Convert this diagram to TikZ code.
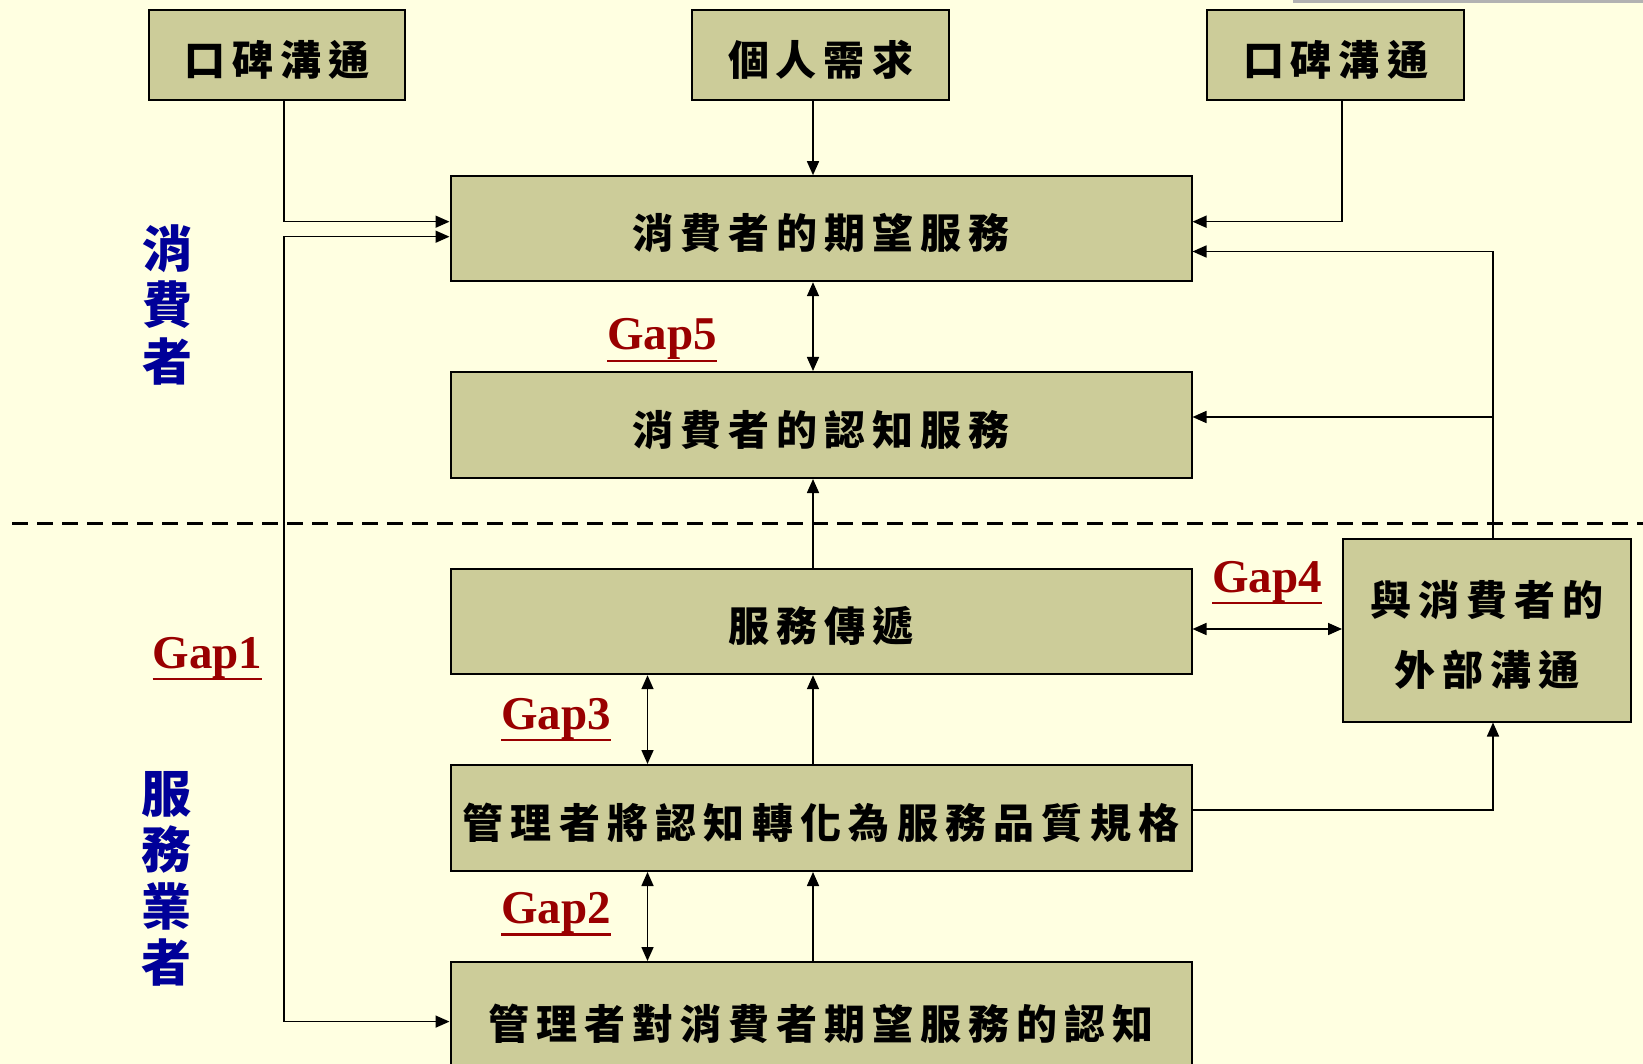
\documentclass[tikz,border=0pt]{standalone}
\usepackage{fontspec}
\setmainfont{Liberation Serif}
\newfontfamily\cjk{Noto Sans CJK TC}
\usetikzlibrary{arrows.meta,calc}
\definecolor{bg}{HTML}{FFFFE1}
\definecolor{boxfill}{HTML}{CCCC99}
\definecolor{gapred}{HTML}{990000}
\definecolor{sideblue}{HTML}{000099}
\makeatletter
\newcommand\spc[2]{\raisebox{-4.5pt}[0.88em][0.12em]{\@tfor\sp@c:=#2\do{\sp@c\kern#1}\kern-#1}}
\makeatother
\newcommand\gul[1]{\leavevmode\setbox0\hbox{#1}\rlap{\vrule height -9.5pt depth 12pt width \wd0}\box0}
\begin{document}
\begin{tikzpicture}[x=1pt,y=-1pt,
  box/.style={draw=black,line width=2pt,fill=boxfill,inner sep=0pt,text=black,
    font=\cjk\bfseries\fontsize{41}{48}\selectfont},
  arr/.style={line width=1.6pt,-{Triangle[length=14pt,width=12pt]}},
  darr/.style={line width=1.6pt,{Triangle[length=14pt,width=12pt]}-{Triangle[length=14pt,width=12pt]}},
  gap/.style={font=\bfseries\fontsize{47}{50}\selectfont,text=gapred,anchor=base,inner sep=0pt},
  side/.style={font=\cjk\bfseries\fontsize{50}{56.5}\selectfont,text=sideblue,inner sep=0pt,align=center}]
\fill[bg] (0,0) rectangle (1643,1064);
\useasboundingbox (0,0) rectangle (1643,1064);
\fill[gray!60] (1293,0) rectangle (1643,3.5);
% dashed divider
\draw[line width=3pt,dash pattern=on 16pt off 9pt] (12,523) -- (1643,523);
% boxes
\node[box,minimum width=256pt,minimum height=90pt] (wom1) at (277,55) {\spc{7pt}{口碑溝通}};
\node[box,minimum width=257pt,minimum height=90pt] (need) at (820.5,55) {\spc{7pt}{個人需求}};
\node[box,minimum width=257pt,minimum height=90pt] (wom2) at (1335.5,55) {\spc{7pt}{口碑溝通}};
\node[box,minimum width=741pt,minimum height=105pt] (exp) at (821,228.7) {\spc{7pt}{消費者的期望服務}};
\node[box,minimum width=741pt,minimum height=106pt] (perc) at (821,425) {\spc{7pt}{消費者的認知服務}};
\node[box,minimum width=741pt,minimum height=105pt] (deliv) at (821,621.7) {\spc{7pt}{服務傳遞}};
\node[box,minimum width=741pt,minimum height=106pt] (spec) at (821,818) {\spc{7.3pt}{管理者將認知轉化為服務品質規格}};
\node[box,minimum width=741pt,minimum height=114pt] (mgr) at (821,1019) {\spc{7pt}{管理者對消費者期望服務的認知}};
\node[box,minimum width=288pt,minimum height=183pt,align=center,font=\cjk\bfseries\fontsize{41}{70}\selectfont] (ext) at (1487,630) {\spc{7pt}{與消費者的}\\\spc{7pt}{外部溝通}};
% side labels
\node[side] (cons) at (167,305) {消\\費\\者};
\node[side] (prov) at (166,879) {服\\務\\業\\者};
% gap labels
\node[gap] (g5) at (662,350) {\gul{Gap5}};
\node[gap] (g1) at (207.5,668) {\gul{Gap1}};
\node[gap] (g4) at (1267,592) {\gul{Gap4}};
\node[gap] (g3) at (556,729) {\gul{Gap3}};
\node[gap] (g2) at (556,923.5) {\gul{Gap2}};
% helper coordinates
\coordinate (xL) at (284,0);
\coordinate (xM) at (813,0);
\coordinate (xG) at (647.5,0);
\coordinate (xR) at (1342,0);
\coordinate (xE) at (1493,0);
\coordinate (yA) at (0,221.7);
\coordinate (yB) at (0,236.7);
\coordinate (yC) at (0,251.5);
\coordinate (yD) at (0,417);
\coordinate (yE) at (0,629);
\coordinate (yF) at (0,810);
\coordinate (yG) at (0,1021.6);
% connectors
\draw[arr] (wom1.south -| xL) |- (exp.west |- yA);
\draw[darr] (exp.west |- yB) -| (xL |- yG) -- (mgr.west |- yG);
\draw[arr] (need.south -| xM) -- (exp.north -| xM);
\draw[arr] (wom2.south -| xR) |- (exp.east |- yA);
\draw[arr] (ext.north -| xE) |- (exp.east |- yC);
\draw[arr] (xE |- yD) -- (perc.east |- yD);
\draw[darr] (exp.south -| xM) -- (perc.north -| xM);
\draw[arr] (deliv.north -| xM) -- (perc.south -| xM);
\draw[darr] (deliv.east |- yE) -- (ext.west |- yE);
\draw[darr] (deliv.south -| xG) -- (spec.north -| xG);
\draw[arr] (spec.north -| xM) -- (deliv.south -| xM);
\draw[arr] (spec.east |- yF) -| (ext.south -| xE);
\draw[darr] (spec.south -| xG) -- (mgr.north -| xG);
\draw[arr] (mgr.north -| xM) -- (spec.south -| xM);
\end{tikzpicture}
\end{document}
